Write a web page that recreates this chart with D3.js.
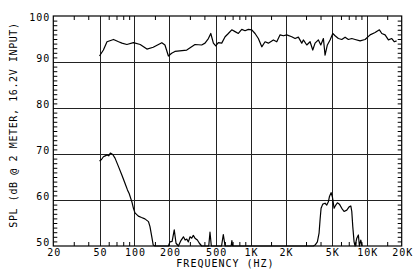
<!DOCTYPE html>
<html>
<head>
<meta charset="utf-8">
<script src="https://cdn.jsdelivr.net/npm/d3@7"></script>
<style>
  body { margin: 0; background: #fff; }
  svg text { font-family: "DejaVu Sans Mono", monospace; font-size: 10px; letter-spacing: 1px; fill: #000; }
</style>
</head>
<body>
<div id="chart"></div>
<script>
// frequency axis
var freqMajor = [20, 50, 100, 200, 500, 1000, 2000, 5000, 10000, 20000];
var freqLabels = ["20", "50", "100", "200", "500", "1K", "2K", "5K", "10K", "20K"];
var freqMinor = [30, 40, 60, 70, 80, 90, 150, 300, 400, 600, 700, 800, 900, 1500,
                 3000, 4000, 6000, 7000, 8000, 9000, 15000];
var splMajor = [50, 60, 70, 80, 90, 100];

// on-axis response
var onFreq = [50, 54, 58, 66, 73, 78, 86, 98, 112, 128, 145, 172, 183, 196, 209, 223, 282,
  332, 379, 405, 433, 454, 478, 501, 527, 564, 603, 643, 688, 735, 784, 839, 896, 956,
  1023, 1092, 1166, 1248, 1332, 1422, 1570, 1680, 1794, 1916, 2048, 2260, 2415, 2578,
  2758, 2846, 3046, 3252, 3428, 3590, 3834, 4020, 4234, 4376, 4580, 4832, 5102, 5338,
  5700, 6096, 6510, 6950, 7434, 7938, 8766, 9678, 10686, 11804, 12854, 13480, 14388,
  15368, 16432, 17300, 18070];
var onSpl = [91.3, 92.6, 94.4, 94.9, 94.4, 94.1, 93.8, 94.2, 93.8, 92.8, 93.2, 94.2, 93.7,
  91.3, 91.9, 92.3, 92.6, 93.8, 93.7, 94.1, 95.1, 96.2, 94.1, 93.5, 94.2, 94.1, 95.5, 96.2,
  97.0, 96.6, 96.2, 97.1, 96.8, 97.1, 97.0, 96.2, 95.1, 93.3, 94.4, 94.1, 94.8, 94.4, 95.9,
  95.7, 95.9, 95.5, 95.1, 95.4, 94.1, 94.8, 93.7, 94.4, 92.6, 94.1, 94.8, 93.7, 95.1, 91.5,
  93.7, 94.8, 96.2, 95.7, 95.1, 94.9, 95.4, 94.9, 95.1, 94.9, 94.6, 94.9, 95.9, 96.4, 97.0,
  96.2, 95.9, 94.8, 95.1, 94.4, 94.6];

// second (rear / distortion) trace
var lowFreq = [50, 52, 54, 56, 58, 60, 62, 65, 68, 73, 78, 83, 87, 90, 95, 98, 101, 108,
  115, 123, 132, 136, 141, 145, 150, 196, 202, 211, 220, 228, 239, 250, 264, 273, 282,
  291, 301, 311, 321, 332, 348, 362, 379, 436, 447, 459, 562, 582, 603, 680, 690, 700,
  3472, 3590, 3758, 3886, 3964, 4044, 4182, 4376, 4528, 4674, 4768, 4932, 5060, 5234,
  5414, 5588, 5814, 6096, 6380, 6732, 7048, 7290, 7434, 7584, 7780, 7938, 8212, 8472,
  8644, 8886, 9120];
var lowSpl = [68.5, 68.8, 69.4, 69.6, 69.8, 69.6, 70.2, 69.9, 69.1, 67.2, 65.4, 63.6, 62.2,
  61.4, 59.6, 58.2, 57.2, 56.5, 56.2, 55.9, 55.3, 54.2, 52.0, 50.2, 50, 50, 50.9, 51.0,
  53.5, 50.6, 50, 51.1, 52.0, 51.3, 51.5, 50.9, 52.0, 51.7, 52.3, 51.7, 51.3, 50.6, 50,
  50, 53.0, 50, 50, 52.5, 50, 50, 51.2, 50, 50, 50.2, 50.9, 52.8, 55.7, 58.2, 59.1,
  59.3, 58.9, 59.6, 60.7, 61.6, 60.7, 58.2, 58.9, 59.4, 59.1, 58.2, 57.5, 57.8, 58.5,
  58.7, 57.5, 54.2, 50.9, 50, 51.7, 52.4, 50, 51.3, 50];

var svg = d3.select("#chart").append("svg")
    .attr("width", 420)
    .attr("height", 280);

// plot box (note: "top" is taken by window.top, so use other names)
var pl = 53.3, pr = 401.7, pt = 16, pb = 246;

var x = d3.scaleLog().domain([20, 20000]).range([pl, pr]);
var y = d3.scaleLinear().domain([50, 100]).range([pb, pt]);

// grid
var grid = svg.append("g").attr("stroke", "#222").attr("stroke-width", 1);
grid.selectAll(".gx")
    .data(freqMajor.slice(1, -1))
    .enter().append("line")
    .attr("x1", function(d) { return Math.round(x(d)) + 0.5; })
    .attr("x2", function(d) { return Math.round(x(d)) + 0.5; })
    .attr("y1", pt).attr("y2", pb);
grid.selectAll(".gy")
    .data(splMajor.slice(1, -1))
    .enter().append("line")
    .attr("y1", function(d) { return Math.round(y(d)) + 0.5; })
    .attr("y2", function(d) { return Math.round(y(d)) + 0.5; })
    .attr("x1", pl).attr("x2", pr);

// minor ticks, inward on all four sides
function noText(g) { g.select(".domain").remove(); g.selectAll("text").remove(); }

svg.append("g")
    .attr("transform", "translate(0," + pb + ")")
    .call(d3.axisBottom(x).tickValues(freqMinor).tickSize(-4))
    .call(noText);
svg.append("g")
    .attr("transform", "translate(0," + pt + ")")
    .call(d3.axisTop(x).tickValues(freqMinor).tickSize(-4))
    .call(noText);

var splMinor = d3.range(51, 100).filter(function(d) { return d % 10 != 0; });
svg.append("g")
    .attr("transform", "translate(" + pl + ",0)")
    .call(d3.axisLeft(y).tickValues(splMinor).tickSize(-4))
    .call(noText);
svg.append("g")
    .attr("transform", "translate(" + pr + ",0)")
    .call(d3.axisRight(y).tickValues(splMinor).tickSize(-4))
    .call(noText);

svg.selectAll("g.tick line").attr("stroke", "#000");

// frame
svg.append("rect")
    .attr("x", pl).attr("y", pt)
    .attr("width", pr - pl).attr("height", pb - pt)
    .attr("fill", "none").attr("stroke", "#000").attr("stroke-width", 1.2);

// tick labels
var xAxis = svg.append("g")
    .attr("transform", "translate(0," + pb + ")")
    .call(d3.axisBottom(x).tickValues(freqMajor)
        .tickFormat(function(d, i) { return freqLabels[i]; })
        .tickSize(0).tickPadding(3));
xAxis.select(".domain").remove();
xAxis.selectAll("text").attr("font-family", null).attr("font-size", null).attr("dx", "0.5");

var yAxis = svg.append("g")
    .attr("transform", "translate(" + pl + ",0)")
    .call(d3.axisLeft(y).tickValues(splMajor).tickSize(0).tickPadding(3));
yAxis.select(".domain").remove();
yAxis.selectAll("text")
    .attr("font-family", null).attr("font-size", null)
    .attr("dy", function(d) { return d == 100 ? "0.45em" : "-0.05em"; });

svg.append("text")
    .attr("x", (pl + pr) / 2 - 2)
    .attr("y", 267)
    .attr("text-anchor", "middle")
    .text("FREQUENCY (HZ)");

svg.append("text")
    .attr("transform", "translate(17," + 125 + ") rotate(-90)")
    .attr("text-anchor", "middle")
    .style("letter-spacing", "0.6px")
    .text("SPL (dB @ 2 METER, 16.2V INPUT)");

// curves
var line = d3.line()
    .x(function(d) { return x(d[0]); })
    .y(function(d) { return y(d[1]); });

svg.append("path")
    .datum(d3.zip(onFreq, onSpl))
    .attr("fill", "none").attr("stroke", "#000").attr("stroke-width", 1.2)
    .attr("stroke-linejoin", "round")
    .attr("d", line);

svg.append("path")
    .datum(d3.zip(lowFreq, lowSpl))
    .attr("fill", "none").attr("stroke", "#000").attr("stroke-width", 1.2)
    .attr("stroke-linejoin", "round")
    .attr("d", line);
</script>
</body>
</html>
